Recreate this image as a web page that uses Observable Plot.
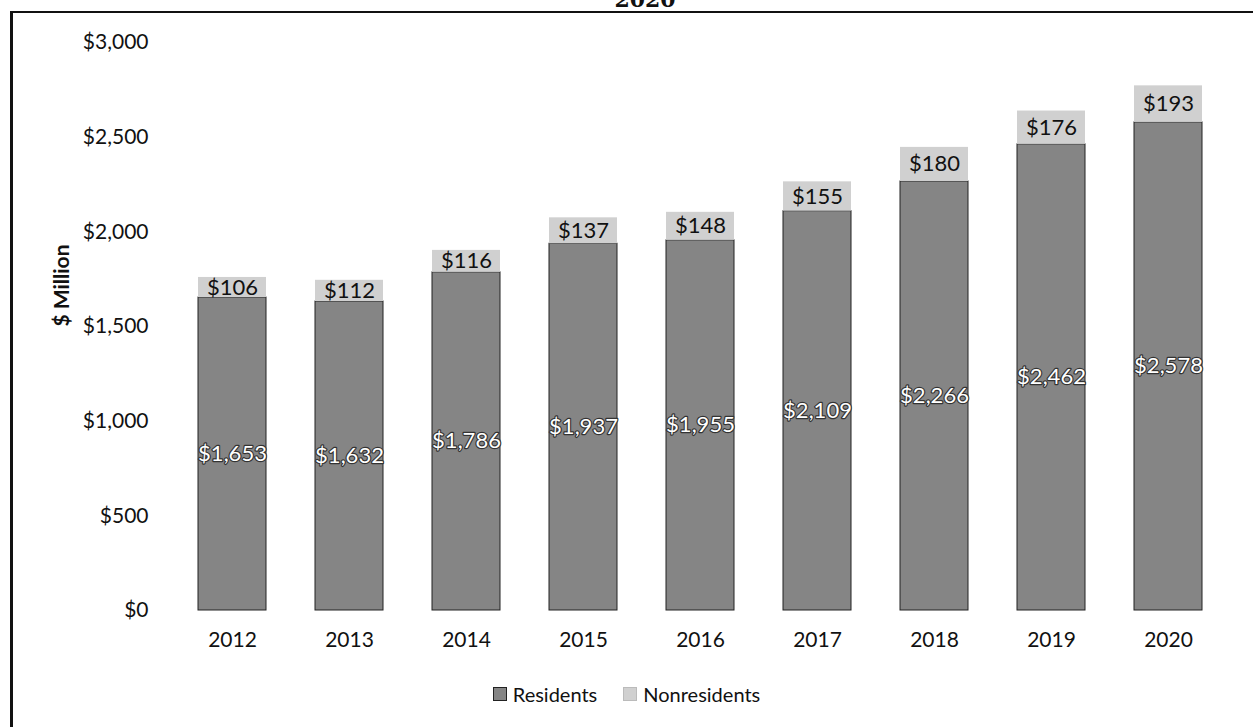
<!DOCTYPE html>
<html>
<head>
<meta charset="utf-8">
<script src="https://cdn.jsdelivr.net/npm/d3@7"></script>
<script src="https://cdn.jsdelivr.net/npm/@observablehq/plot@0.6"></script>
<style>
  html, body { margin: 0; padding: 0; background: #fff; }
  #wrap { position: relative; width: 1253px; height: 727px; overflow: hidden; font-family: Lato, "Open Sans", sans-serif; }
  #frame { position: absolute; left: 10px; top: 11px; width: 1400px; height: 900px; border-left: 3px solid #111; border-top: 2px solid #111; }
  #title { position: absolute; top: -14px; left: 0; width: 1290px; text-align: center; font: bold 22px "DejaVu Serif", serif; color: #111; }
  #chart { position: absolute; left: 0; top: 0; }
  #legend { position: absolute; top: 682px; left: 0; width: 1253px; display: flex; justify-content: center; gap: 26px; font-size: 20px; color: #111; }
  #legend span.item { display: flex; align-items: center; gap: 6px; }
  #legend span.sw { width: 12px; height: 12px; display: inline-block; }
</style>
</head>
<body>
<div id="wrap">
  <div id="title">2020</div>
  <div id="frame"></div>
  <div id="chart"></div>
  <div id="legend"></div>
</div>
<script>
const years = ["2012","2013","2014","2015","2016","2017","2018","2019","2020"];
const residents = [1653,1632,1786,1937,1955,2109,2266,2462,2578];
const nonresidents = [106,112,116,137,148,155,180,176,193];
const series = ["Residents","Nonresidents"];
const colors = ["#858585","#d0d0d0"];
const yTicks = [0,500,1000,1500,2000,2500,3000];

const data = [];
years.forEach((y,i) => {
  data.push({year: y, type: "Residents", value: residents[i]});
  data.push({year: y, type: "Nonresidents", value: nonresidents[i]});
});
const fmt = d3.format("$,");

const plot = Plot.plot({
  width: 1253,
  height: 660,
  marginTop: 42,
  marginBottom: 50,
  marginLeft: 171,
  marginRight: 24,
  style: {fontFamily: "Lato, 'Open Sans', sans-serif", fontSize: "21px", color: "#111", background: "transparent"},
  x: {domain: years, paddingInner: 0.42, paddingOuter: 0.21, label: null, tickSize: 0, tickPadding: 22},
  y: {domain: [0,3000], ticks: yTicks, tickFormat: fmt, tickSize: 0, tickPadding: 23, label: null},
  color: {domain: series, range: colors},
  marks: [
    Plot.barY(data, Plot.stackY({x: "year", y: "value", z: "type", fill: "type", order: series,
      stroke: d => d.type === "Residents" ? "#222" : "none", strokeWidth: 1})),
    Plot.text(data, Plot.stackY({x: "year", y: "value", z: "type", order: series,
      text: d => d.type === "Residents" ? fmt(d.value) : null,
      fill: "white", stroke: "#333", strokeWidth: 2.4, fontSize: 22})),
    Plot.text(data, Plot.stackY({x: "year", y: "value", z: "type", order: series,
      text: d => d.type === "Nonresidents" ? fmt(d.value) : null,
      fill: "#111", fontSize: 22})),
    Plot.text(["$ Million"], {frameAnchor: "left", dx: -109, rotate: -90, text: d => d, fontWeight: "bold", fontSize: 21, fill: "#111"})
  ]
});
document.getElementById("chart").appendChild(plot);

const legend = document.getElementById("legend");
series.forEach((s,i) => {
  const item = document.createElement("span");
  item.className = "item";
  const sw = document.createElement("span");
  sw.className = "sw";
  sw.style.background = colors[i];
  sw.style.border = i === 0 ? "1px solid #222" : "1px solid #bbb";
  item.appendChild(sw);
  item.appendChild(document.createTextNode(s));
  legend.appendChild(item);
});
</script>
</body>
</html>
